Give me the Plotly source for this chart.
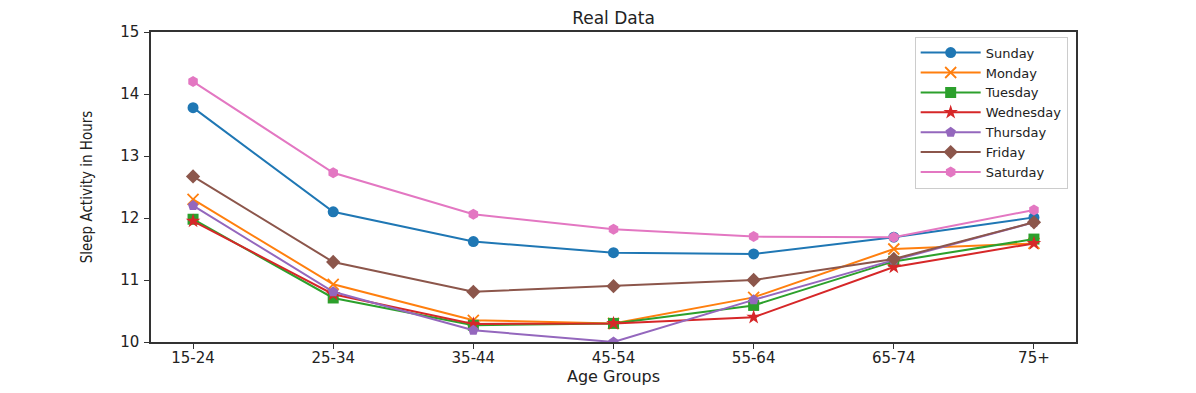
import plotly.graph_objects as go

age_groups = ["15-24", "25-34", "35-44", "45-54", "55-64", "65-74", "75+"]
sunday = [13.78, 12.10, 11.62, 11.44, 11.42, 11.69, 12.01]
monday = [12.30, 10.93, 10.35, 10.30, 10.72, 11.50, 11.59]
tuesday = [11.98, 10.71, 10.27, 10.30, 10.59, 11.30, 11.66]
wednesday = [11.95, 10.77, 10.29, 10.30, 10.40, 11.21, 11.59]
thursday = [12.20, 10.81, 10.19, 10.00, 10.68, 11.32, 11.93]
friday = [12.67, 11.29, 10.81, 10.90, 11.00, 11.34, 11.93]
saturday = [14.20, 12.73, 12.06, 11.82, 11.70, 11.69, 12.13]

series = [
    ("Sunday", sunday, "#1f77b4", "circle"),
    ("Monday", monday, "#ff7f0e", "x-thin-open"),
    ("Tuesday", tuesday, "#2ca02c", "square"),
    ("Wednesday", wednesday, "#d62728", "star"),
    ("Thursday", thursday, "#9467bd", "pentagon"),
    ("Friday", friday, "#8c564b", "diamond"),
    ("Saturday", saturday, "#e377c2", "hexagon"),
]

fig = go.Figure()
xs = list(range(len(age_groups)))
for name, vals, color, sym in series:
    fig.add_trace(go.Scatter(
        x=xs, y=vals, name=name, mode="lines+markers",
        line=dict(color=color, width=2),
        marker=dict(symbol=sym, size=11, color=color,
                    line=dict(color=color, width=1.8 if sym == "x-thin-open" else 0)),
    ))

axis_common = dict(showline=True, linecolor="#333", linewidth=1.5, mirror=True,
                   ticks="outside", ticklen=5, tickcolor="#333", showgrid=False,
                   zeroline=False, tickfont=dict(family="DejaVu Sans", size=15, color="#222"))

# the page adds an 8px body offset, so margins are shifted to compensate
fig.update_layout(
    width=1196, height=393,
    margin=dict(l=143, r=128, t=24, b=59),
    paper_bgcolor="white", plot_bgcolor="white",
    title=dict(text="Real Data", x=(143 + 1068) / 2 / 1196, xanchor="center", y=0.975, yanchor="middle",
               font=dict(family="DejaVu Sans", size=17, color="#222")),
    xaxis=dict(range=[-0.3, 6.3], tickmode="array", tickvals=xs, ticktext=age_groups,
               ticklabelstandoff=-4,
               title=dict(text="Age Groups", font=dict(family="DejaVu Sans", size=16, color="#222"), standoff=0),
               **axis_common),
    yaxis=dict(range=[10, 15], tickvals=[10, 11, 12, 13, 14, 15],
               ticklabelstandoff=2,
               title=dict(text="Sleep Activity in Hours",
                          font=dict(family="DejaVu Sans Condensed, Liberation Sans Narrow, DejaVu Sans", size=15, color="#222"),
                          standoff=24),
               **axis_common),
    legend=dict(x=0.991, y=0.985, xanchor="right", yanchor="top",
                bordercolor="#ccc", borderwidth=1, bgcolor="white",
                font=dict(family="DejaVu Sans", size=13, color="#222"),
                tracegroupgap=0, itemwidth=60),
    showlegend=True,
)

fig.write_html("out.html")
